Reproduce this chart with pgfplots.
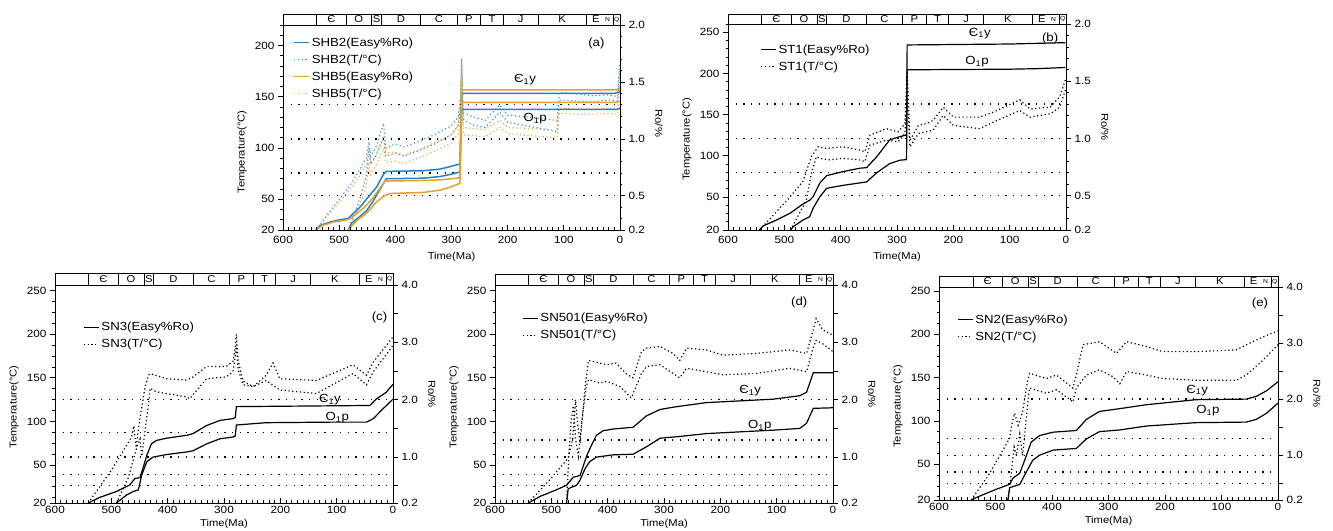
\documentclass[border=0pt]{standalone}
\usepackage{pgfplots}
\pgfplotsset{compat=1.18}
\usepackage{fontspec}
\setmainfont{Liberation Sans}[FakeStretch=1.12]

\definecolor{sblue}{RGB}{28,134,200}
\definecolor{sorange}{RGB}{232,160,38}

\tikzset{lab/.style={font=\fontsize{11.8}{13}\selectfont}}

\pgfplotsset{
  /pgf/number format/assume math mode=true,
  place/.style n args={4}{scale only axis, at={(#1pt,-#2pt)}, anchor=south west,
    width=#3pt, height=#4pt, xmin=0, xmax=600, x dir=reverse},
  common/.style={major tick length=5pt, minor tick length=2.5pt,
    axis line style={line width=0.9pt}, tick style={line width=0.7pt, black},
    tick label style={font=\fontsize{10.5}{12}\selectfont},
    label style={font=\fontsize{12.2}{14}\selectfont}},
  tax/.style={common, tick align=outside, xmajorticks=false, xminorticks=false,
    ytick pos=left,
    xlabel={Time(Ma)}, ylabel={Temperature(°C)},
    every axis y label/.style={at={(axis description cs:0,0.44)}, xshift=-41pt, rotate=90, anchor=center},
    every axis x label/.style={at={(axis description cs:0.5,0)}, yshift=-27pt, anchor=center}},
  rax/.style={common, axis y line*=right, axis x line=none, tick align=outside,
    ylabel={Ro/\%},
    every axis y label/.style={at={(axis description cs:1,0.5)}, xshift=39pt, rotate=-90, anchor=center},
    legend style={draw=none, fill=none, inner sep=0pt, row sep=3pt, anchor=north west,
      font=\fontsize{11.8}{13}\selectfont},
    legend cell align=left,
    legend image code/.code={\draw[##1] (0pt,0pt) -- (15pt,0pt);}},
  xax/.style={common, axis x line*=bottom, axis y line=none, ymin=0, ymax=1,
    tick align=inside, xtick={0,100,...,600}, minor xtick={0,10,...,600},
    minor tick length=3pt},
  gbar/.style={ymin=0, ymax=1, ticks=none, axis line style={line width=0.9pt}},
  tdot/.style={line width=1.2pt, dash pattern=on 1.2pt off 2.6pt},
  rdot/.style={black, line width=1.3pt, dash pattern=on 1.3pt off 6.4pt},
  ro/.style={black, line width=1.2pt},
  lowro/.style={ymin=0.2, ymax=4, ytick={0.2,0.5,1,1.5,2,2.5,3,3.5,4},
    yticklabels={0.2,,1.0,,2.0,,3.0,,4.0}},
  hiro/.style={ymin=0.2, ymax=2, ytick={0.2,0.5,1,1.5,2},
    yticklabels={0.2,0.5,1.0,1.5,2.0}, minor ytick={0.3,0.4,...,1.95}},
}

\newcommand\geo{%
  \addplot[black, line width=0.7pt, unbounded coords=jump] coordinates {
    (540,0) (540,1) (540,nan) (488,0) (488,1) (488,nan) (442,0) (442,1) (442,nan)
    (425,0) (425,1) (425,nan) (355,0) (355,1) (355,nan) (290,0) (290,1) (290,nan)
    (248,0) (248,1) (248,nan) (208,0) (208,1) (208,nan) (146,0) (146,1) (146,nan)
    (60,0) (60,1) (60,nan) (12,0) (12,1)};
  \addplot[draw=none, mark=none, nodes near coords, point meta=explicit symbolic,
    every node near coord/.style={anchor=center, inner sep=0pt, font=\fontsize{10}{10}\selectfont}]
    coordinates {(514,0.5)[Є] (465,0.5)[O] (433.5,0.5)[S] (390,0.5)[D] (322.5,0.5)[C]
      (269,0.5)[P] (228,0.5)[T] (177,0.5)[J] (103,0.5)[K] (43,0.5)[E]};
  \addplot[draw=none, mark=none, nodes near coords, point meta=explicit symbolic,
    every node near coord/.style={anchor=center, inner sep=0pt, font=\fontsize{6}{7}\selectfont}]
    coordinates {(22,0.5)[N] (6,0.5)[Q]};
}

\begin{document}
\begin{tikzpicture}
\useasboundingbox (0pt,0pt) rectangle (1333pt,-530pt);

%% ---------------- (a) SHB2 / SHB5
\begin{axis}[place={283}{230}{337}{205}, tax, ymin=20, ymax=220,
  ytick={20,50,100,150,200}, minor ytick={30,40,...,220},
  every axis y label/.append style={at={(axis description cs:0,0.38)}}]
\addplot[sblue!85, tdot] coordinates {(541,20) (520,36) (500,50) (480,64) (462,80) (452,90) (447,106) (444,92) (435,100) (421,124) (417,100) (400,104) (385,101) (360,106) (330,113) (300,122) (288,130) (284,150) (282,188) (279,134) (260,130) (240,127) (214,142) (200,132) (160,130) (112,127) (108,154) (80,153) (50,151) (20,152) (4,150) (1,183)};
\addplot[sblue!85, tdot] coordinates {(484,20) (470,40) (460,56) (452,72) (447,100) (444,84) (435,92) (421,110) (417,92) (400,95) (385,92) (360,97) (330,104) (300,113) (288,122) (284,140) (282,182) (279,128) (260,122) (240,120) (214,135) (200,125) (160,121) (112,116) (108,147) (80,146) (50,145) (20,147) (4,146) (1,175)};
\addplot[sorange!85, tdot] coordinates {(541,20) (520,34) (500,47) (480,60) (462,74) (452,84) (447,98) (444,86) (435,92) (421,112) (417,95) (400,96) (385,93) (360,98) (330,105) (300,113) (288,122) (284,140) (282,185) (279,120) (260,119) (240,118) (214,127) (200,120) (160,119) (112,117) (108,139) (80,138) (50,137) (20,139) (4,138) (1,165)};
\addplot[sorange!85, tdot] coordinates {(484,20) (470,36) (460,50) (452,62) (447,86) (444,74) (435,82) (421,100) (417,86) (400,87) (385,85) (360,90) (330,97) (300,105) (288,114) (284,130) (282,172) (279,113) (260,112) (240,111) (214,120) (200,114) (160,112) (112,110) (108,134) (80,133) (50,133) (20,134) (4,133) (1,158)};
\end{axis}
\begin{axis}[place={283}{230}{337}{205}, rax, hiro,
  every axis y label/.append style={at={(axis description cs:1,0.54)}, xshift=4pt},
  legend style={at={(axis description cs:0.03,0.95)}}]
\addlegendimage{sblue, line width=1.5pt}\addlegendentry{SHB2(Easy\%Ro)}
\addlegendimage{sblue!85, tdot}\addlegendentry{SHB2(T/°C)}
\addlegendimage{sorange, line width=1.5pt}\addlegendentry{SHB5(Easy\%Ro)}
\addlegendimage{sorange!85, tdot}\addlegendentry{SHB5(T/°C)}
\addplot[rdot, forget plot] coordinates {(600,0.5) (0,0.5)};
\addplot[rdot, forget plot] coordinates {(600,0.7) (0,0.7)};
\addplot[rdot, forget plot] coordinates {(600,1.0) (0,1.0)};
\addplot[rdot, forget plot] coordinates {(600,1.3) (0,1.3)};
\addplot[sblue, line width=1.5pt, forget plot] coordinates {(541,0.20) (534,0.24) (516,0.27) (499,0.29) (484,0.30) (478,0.33) (463,0.40) (448,0.49) (433,0.58) (421,0.69) (416,0.715) (350,0.72) (320,0.735) (300,0.76) (285,0.78) (282,1.40) (10,1.40) (2,1.41) (0,1.42)};
\addplot[sblue, line width=1.5pt, forget plot] coordinates {(484,0.20) (478,0.26) (463,0.32) (451,0.37) (440,0.45) (427,0.56) (416,0.65) (350,0.655) (320,0.67) (300,0.69) (285,0.71) (282,1.26) (5,1.26) (0,1.27)};
\addplot[sorange, line width=1.5pt, forget plot] coordinates {(541,0.20) (530,0.24) (510,0.27) (490,0.285) (480,0.30) (470,0.34) (455,0.40) (440,0.48) (430,0.55) (418,0.63) (350,0.635) (320,0.64) (300,0.65) (285,0.66) (282,1.43) (5,1.43) (0,1.45)};
\addplot[sorange, line width=1.5pt, forget plot] coordinates {(484,0.20) (475,0.25) (465,0.30) (455,0.33) (445,0.38) (435,0.44) (420,0.50) (410,0.52) (350,0.53) (320,0.55) (300,0.58) (285,0.61) (282,1.32) (5,1.32) (0,1.33)};
\node[lab] at (axis cs:169,1.52) {Є\textsubscript{1}y};
\node[lab] at (axis cs:151,1.18) {O\textsubscript{1}p};
\node[lab] at (axis description cs:0.93,0.91) {(a)};
\end{axis}
\begin{axis}[place={283}{230}{337}{205}, xax, xticklabel style={yshift=-3pt}]\end{axis}
\begin{axis}[place={283}{25}{337}{11}, gbar]\geo\end{axis}

%% ---------------- (b) ST1
\begin{axis}[place={728}{230}{338}{206}, tax, ymin=10, ymax=260,
  ytick={10,50,100,150,200,250}, yticklabels={20,50,100,150,200,250}, minor ytick={20,30,...,260}]
\addplot[black, tdot] coordinates {(544,10) (490,50) (467,69) (452,99) (440,111) (425,109) (396,111) (366,107) (357,105) (348,125) (319,133) (298,129) (286,139) (282,205) (277,119) (262,137) (248,139) (236,143) (218,159) (200,147) (153,147) (129,153) (82,168) (64,157) (28,159) (11,172) (1,192)};
\addplot[black, tdot] coordinates {(489,10) (461,46) (452,79) (443,99) (437,97) (419,95) (396,97) (366,95) (357,93) (348,113) (319,119) (298,117) (286,127) (282,170) (277,111) (262,127) (236,131) (218,149) (200,137) (153,133) (129,141) (82,155) (64,147) (28,151) (11,159) (1,180)};
\end{axis}
\begin{axis}[place={728}{230}{338}{206}, rax, hiro,
  legend style={at={(axis description cs:0.095,0.91)}}]
\addlegendimage{ro}\addlegendentry{ST1(Easy\%Ro)}
\addlegendimage{black, tdot}\addlegendentry{ST1(T/°C)}
\addplot[rdot, forget plot] coordinates {(600,0.5) (0,0.5)};
\addplot[rdot, forget plot] coordinates {(600,0.7) (0,0.7)};
\addplot[rdot, forget plot] coordinates {(600,1.0) (0,1.0)};
\addplot[rdot, forget plot] coordinates {(600,1.3) (0,1.3)};
\addplot[ro, forget plot] coordinates {(544,0.2) (538,0.235) (514,0.287) (490,0.346) (467,0.427) (455,0.46) (449,0.49) (437,0.61) (425,0.675) (396,0.71) (366,0.74) (354,0.745) (336,0.84) (313,0.987) (295,1.016) (283,1.03) (282,1.817) (100,1.825) (60,1.83) (1,1.837)};
\addplot[ro, forget plot] coordinates {(489,0.2) (484,0.23) (467,0.287) (455,0.317) (449,0.39) (437,0.49) (425,0.564) (396,0.59) (354,0.62) (336,0.70) (313,0.78) (295,0.81) (283,0.815) (282,1.60) (100,1.605) (50,1.61) (1,1.62)};
\node[lab] at (axis cs:153,1.92) {Є\textsubscript{1}y};
\node[lab] at (axis cs:158,1.67) {O\textsubscript{1}p};
\node[lab] at (axis description cs:0.953,0.93) {(b)};
\end{axis}
\begin{axis}[place={728}{230}{338}{206}, xax, xticklabel style={yshift=-3pt}]\end{axis}
\begin{axis}[place={728}{24}{338}{10}, gbar]\geo\end{axis}

%% ---------------- (c) SN3
\begin{axis}[place={55}{503}{338}{218}, tax, ymin=6.4, ymax=256.5,
  ytick={6.4,50,100,150,200,250}, yticklabels={20,50,100,150,200,250}, minor ytick={12.5,25,...,250},
  every axis x label/.append style={yshift=6pt}]
\addplot[black, tdot] coordinates {(541,6.4) (500,44) (464,82) (460,95) (456,70) (450,100) (440,140) (434,153) (431,155) (402,149) (366,147.5) (355,151) (331,163) (296,163) (284,169) (280,185) (278,200) (275,170) (266,146) (248,140) (225,153) (213,167) (201,149) (136,147) (71,165) (47,153) (35,168) (0,197)};
\addplot[black, tdot] coordinates {(491,6.4) (470,35) (455,70) (449,80) (446,60) (440,90) (434,120) (431,138) (420,134) (402,132) (366,128) (361,126) (331,149) (296,151) (284,157) (280,175) (278,188) (275,160) (266,142) (248,140) (225,147) (201,136) (136,132) (71,155) (47,142) (35,157) (0,187)};
\end{axis}
\begin{axis}[place={55}{503}{338}{218}, rax, lowro,
  legend style={at={(axis description cs:0.083,0.84)}}]
\addlegendimage{ro}\addlegendentry{SN3(Easy\%Ro)}
\addlegendimage{black, tdot}\addlegendentry{SN3(T/°C)}
\addplot[rdot, forget plot] coordinates {(600,0.5) (0,0.5)};
\addplot[rdot, forget plot] coordinates {(600,0.7) (0,0.7)};
\addplot[rdot, forget plot] coordinates {(600,1.0) (0,1.0)};
\addplot[rdot, forget plot] coordinates {(600,1.43) (0,1.43)};
\addplot[rdot, forget plot] coordinates {(600,2.0) (0,2.0)};
\addplot[ro, forget plot] coordinates {(541,0.2) (520,0.30) (491,0.40) (467,0.516) (458,0.63) (449,0.64) (437,1.03) (429,1.23) (420,1.29) (402,1.33) (366,1.38) (355,1.41) (331,1.55) (307,1.64) (284,1.67) (280,1.69) (278,1.88) (41,1.90) (30,2.01) (12,2.13) (0,2.27)};
\addplot[ro, forget plot] coordinates {(491,0.2) (473,0.34) (461,0.40) (452,0.43) (446,0.69) (437,0.92) (426,1.0) (402,1.045) (366,1.09) (355,1.11) (331,1.23) (307,1.32) (284,1.35) (280,1.37) (278,1.56) (225,1.60) (106,1.61) (47,1.61) (35,1.67) (18,1.84) (0,2.01)};
\node[lab] at (axis cs:112,2.0) {Є\textsubscript{1}y};
\node[lab] at (axis cs:99,1.69) {O\textsubscript{1}p};
\node[lab] at (axis description cs:0.96,0.85) {(c)};
\end{axis}
\begin{axis}[place={55}{503}{338}{218}, xax]\end{axis}
\begin{axis}[place={55}{285}{338}{12}, gbar]\geo\end{axis}

%% ---------------- (d) SN501
\begin{axis}[place={495}{503}{338}{218}, tax, ymin=6.4, ymax=256.5,
  ytick={6.4,50,100,150,200,250}, yticklabels={20,50,100,150,200,250}, minor ytick={12.5,25,...,250},
  every axis x label/.append style={yshift=6pt}]
\addplot[black, tdot] coordinates {(541,6.4) (500,35) (470,58) (462,80) (457,125) (453,95) (449,75) (440,140) (434,170) (420,168) (402,165) (385,167) (366,154) (355,150) (340,180) (331,184) (307,186) (284,178) (272,170) (260,184) (225,182) (195,176) (136,178) (77,182) (47,178) (35,205) (30,218) (18,205) (0,199)};
\addplot[black, tdot] coordinates {(473,6.4) (469,60) (465,100) (461,118) (457,80) (452,60) (446,100) (438,140) (434,148) (414,144) (402,146) (378,140) (366,132) (358,127) (340,155) (331,163) (307,165) (284,155) (272,150) (260,161) (225,157) (195,153.5) (136,155) (77,161) (47,157) (35,185) (30,193) (18,189) (0,180)};
\end{axis}
\begin{axis}[place={495}{503}{338}{218}, rax, lowro,
  legend style={at={(axis description cs:0.08,0.88)}}]
\addlegendimage{ro}\addlegendentry{SN501(Easy\%Ro)}
\addlegendimage{black, tdot}\addlegendentry{SN501(T/°C)}
\addplot[rdot, forget plot] coordinates {(600,0.5) (0,0.5)};
\addplot[rdot, forget plot] coordinates {(600,0.7) (0,0.7)};
\addplot[rdot, forget plot] coordinates {(600,1.0) (0,1.0)};
\addplot[rdot, forget plot] coordinates {(600,1.3) (0,1.3)};
\addplot[rdot, forget plot] coordinates {(600,2.0) (0,2.0)};
\addplot[ro, forget plot] coordinates {(541,0.2) (520,0.315) (491,0.43) (473,0.51) (461,0.65) (449,0.68) (437,1.03) (429,1.2) (420,1.38) (408,1.46) (390,1.49) (355,1.52) (331,1.72) (307,1.83) (284,1.87) (225,1.95) (106,2.01) (59,2.07) (47,2.13) (35,2.47) (0,2.47)};
\addplot[ro, forget plot] coordinates {(473,0.2) (470,0.45) (455,0.51) (449,0.6) (440,0.8) (432,0.92) (420,1.0) (390,1.04) (355,1.05) (331,1.18) (307,1.33) (272,1.36) (225,1.41) (106,1.47) (59,1.50) (47,1.59) (35,1.85) (0,1.86)};
\node[lab] at (axis cs:147,2.16) {Є\textsubscript{1}y};
\node[lab] at (axis cs:130,1.55) {O\textsubscript{1}p};
\node[lab] at (axis description cs:0.90,0.92) {(d)};
\end{axis}
\begin{axis}[place={495}{503}{338}{218}, xax]\end{axis}
\begin{axis}[place={495}{285}{338}{11}, gbar]\geo\end{axis}

%% ---------------- (e) SN2
\begin{axis}[place={939}{500}{339}{213}, tax, ymin=8.8, ymax=254.6,
  ytick={8.8,50,100,150,200,250}, yticklabels={20,50,100,150,200,250}, minor ytick={12.5,25,...,250},
  every axis x label/.append style={yshift=6pt}]
\addplot[black, tdot] coordinates {(543,8.8) (510,40) (475,80) (470,100) (466,109) (460,95) (452,110) (445,140) (440,155) (410,149) (392,153) (363,138) (357,153) (345,188) (316,191.5) (286,178) (268,191.5) (233,186) (204,180) (145,180) (74,182) (56,188) (30,196) (0,204)};
\addplot[black, tdot] coordinates {(478,8.8) (472,40) (467,70) (463,60) (457,85) (452,60) (446,100) (440,138) (410,132) (392,136) (363,122) (357,138) (339,153) (316,159) (292,151) (280,143) (268,157) (233,153) (204,149) (145,147) (74,147) (56,153) (30,168) (0,188)};
\end{axis}
\begin{axis}[place={939}{500}{339}{213}, rax, lowro,
  legend style={at={(axis description cs:0.053,0.88)}}]
\addlegendimage{ro}\addlegendentry{SN2(Easy\%Ro)}
\addlegendimage{black, tdot}\addlegendentry{SN2(T/°C)}
\addplot[rdot, forget plot] coordinates {(600,0.5) (0,0.5)};
\addplot[rdot, forget plot] coordinates {(600,0.7) (0,0.7)};
\addplot[rdot, forget plot] coordinates {(600,1.0) (0,1.0)};
\addplot[rdot, forget plot] coordinates {(600,1.3) (0,1.3)};
\addplot[rdot, forget plot] coordinates {(600,2.0) (0,2.0)};
\addplot[ro, forget plot] coordinates {(543,0.2) (528,0.27) (499,0.39) (475,0.48) (469,0.59) (457,0.68) (445,1.0) (437,1.23) (422,1.35) (398,1.41) (357,1.44) (339,1.64) (316,1.78) (280,1.83) (233,1.90) (145,1.99) (56,2.0) (38,2.05) (20,2.15) (0,2.31)};
\addplot[ro, forget plot] coordinates {(478,0.2) (475,0.42) (457,0.48) (445,0.71) (434,0.91) (422,1.0) (398,1.09) (357,1.12) (339,1.29) (316,1.42) (280,1.45) (233,1.52) (145,1.58) (56,1.59) (38,1.64) (20,1.75) (0,1.93)};
\node[lab] at (axis cs:143,2.16) {Є\textsubscript{1}y};
\node[lab] at (axis cs:124,1.80) {O\textsubscript{1}p};
\node[lab] at (axis description cs:0.947,0.925) {(e)};
\end{axis}
\begin{axis}[place={939}{500}{339}{213}, xax]\end{axis}
\begin{axis}[place={939}{287}{339}{11}, gbar]\geo\end{axis}
\end{tikzpicture}
\end{document}
